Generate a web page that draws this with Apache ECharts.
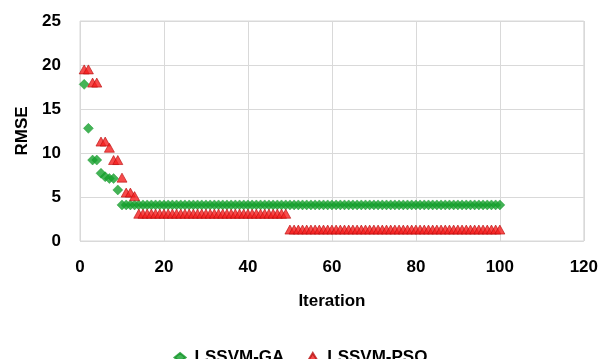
<!DOCTYPE html>
<html>
<head>
<meta charset="utf-8">
<script src="https://cdn.jsdelivr.net/npm/echarts@6/dist/echarts.min.js"></script>
<style>html,body{margin:0;padding:0;background:#fff}#c{width:601px;height:359px}</style>
</head>
<body>
<div id="c"></div>
<script>
var iterations = [1,2,3,4,5,6,7,8,9,10,11,12,13,14,15,16,17,18,19,20,21,22,23,24,25,26,27,28,29,30,31,32,33,34,35,36,37,38,39,40,41,42,43,44,45,46,47,48,49,50,51,52,53,54,55,56,57,58,59,60,61,62,63,64,65,66,67,68,69,70,71,72,73,74,75,76,77,78,79,80,81,82,83,84,85,86,87,88,89,90,91,92,93,94,95,96,97,98,99,100];
var rmseGA = [17.8,12.8,9.2,9.2,7.7,7.3,7.1,7.1,5.8,4.1,
  4.1,4.1,4.1,4.1,4.1,4.1,4.1,4.1,4.1,4.1,
  4.1,4.1,4.1,4.1,4.1,4.1,4.1,4.1,4.1,4.1,
  4.1,4.1,4.1,4.1,4.1,4.1,4.1,4.1,4.1,4.1,
  4.1,4.1,4.1,4.1,4.1,4.1,4.1,4.1,4.1,4.1,
  4.1,4.1,4.1,4.1,4.1,4.1,4.1,4.1,4.1,4.1,
  4.1,4.1,4.1,4.1,4.1,4.1,4.1,4.1,4.1,4.1,
  4.1,4.1,4.1,4.1,4.1,4.1,4.1,4.1,4.1,4.1,
  4.1,4.1,4.1,4.1,4.1,4.1,4.1,4.1,4.1,4.1,
  4.1,4.1,4.1,4.1,4.1,4.1,4.1,4.1,4.1,4.1];
var rmsePSO = [19.5,19.5,18.0,18.0,11.3,11.3,10.6,9.2,9.2,7.2,
  5.5,5.5,5.1,3.1,3.1,3.1,3.1,3.1,3.1,3.1,
  3.1,3.1,3.1,3.1,3.1,3.1,3.1,3.1,3.1,3.1,
  3.1,3.1,3.1,3.1,3.1,3.1,3.1,3.1,3.1,3.1,
  3.1,3.1,3.1,3.1,3.1,3.1,3.1,3.1,3.1,1.3,
  1.3,1.3,1.3,1.3,1.3,1.3,1.3,1.3,1.3,1.3,
  1.3,1.3,1.3,1.3,1.3,1.3,1.3,1.3,1.3,1.3,
  1.3,1.3,1.3,1.3,1.3,1.3,1.3,1.3,1.3,1.3,
  1.3,1.3,1.3,1.3,1.3,1.3,1.3,1.3,1.3,1.3,
  1.3,1.3,1.3,1.3,1.3,1.3,1.3,1.3,1.3,1.3];
var seriesNames = ['LSSVM-GA','LSSVM-PSO'];
var xTicks = {min:0, max:120, interval:20};
var yTicks = {min:0, max:25, interval:5};

function pairs(vals){ return iterations.map(function(x,i){ return [x, vals[i]]; }); }

var font = 'Liberation Sans';
var chart = echarts.init(document.getElementById('c'), null, {renderer:'canvas'});
chart.setOption({
  animation:false,
  backgroundColor:'#fff',
  textStyle:{fontFamily:font},
  grid:{left:80, right:16, top:21, bottom:118, show:true, borderColor:'#d9d9d9', borderWidth:1},
  legend:{
    data:[{name:seriesNames[0], icon:'diamond'},{name:seriesNames[1], icon:'triangle'}],
    top:344, left:'center', itemWidth:11, itemHeight:9, itemGap:22,
    textStyle:{fontFamily:font, fontWeight:'bold', fontSize:17, color:'#000', padding:[0,0,0,4]}
  },
  xAxis:{
    type:'value', min:xTicks.min, max:xTicks.max, interval:xTicks.interval,
    name:'Iteration', nameLocation:'middle', nameGap:52,
    nameTextStyle:{fontFamily:font, fontWeight:'bold', fontSize:17, color:'#000'},
    axisLine:{show:false}, axisTick:{show:false},
    axisLabel:{margin:18, fontFamily:font, fontWeight:'bold', fontSize:17, color:'#000'},
    splitLine:{show:true, lineStyle:{color:'#d9d9d9', width:1}}
  },
  yAxis:{
    type:'value', min:yTicks.min, max:yTicks.max, interval:yTicks.interval,
    name:'RMSE', nameLocation:'middle', nameGap:49, nameRotate:90,
    nameTextStyle:{fontFamily:font, fontWeight:'bold', fontSize:17, color:'#000'},
    axisLine:{show:false}, axisTick:{show:false},
    axisLabel:{margin:19, fontFamily:font, fontWeight:'bold', fontSize:17, color:'#000'},
    splitLine:{show:true, lineStyle:{color:'#d9d9d9', width:1}}
  },
  series:[
    {name:seriesNames[0], type:'scatter', symbol:'diamond', symbolSize:[10,10],
     itemStyle:{color:'#14a02c', borderColor:'#0f9326', borderWidth:0.5},
     data:pairs(rmseGA)},
    {name:seriesNames[1], type:'scatter', symbol:'triangle', symbolSize:[10,9],
     itemStyle:{color:'#f51e1e', borderColor:'#b81010', borderWidth:0.8},
     data:pairs(rmsePSO)}
  ]
});
</script>
</body>
</html>
